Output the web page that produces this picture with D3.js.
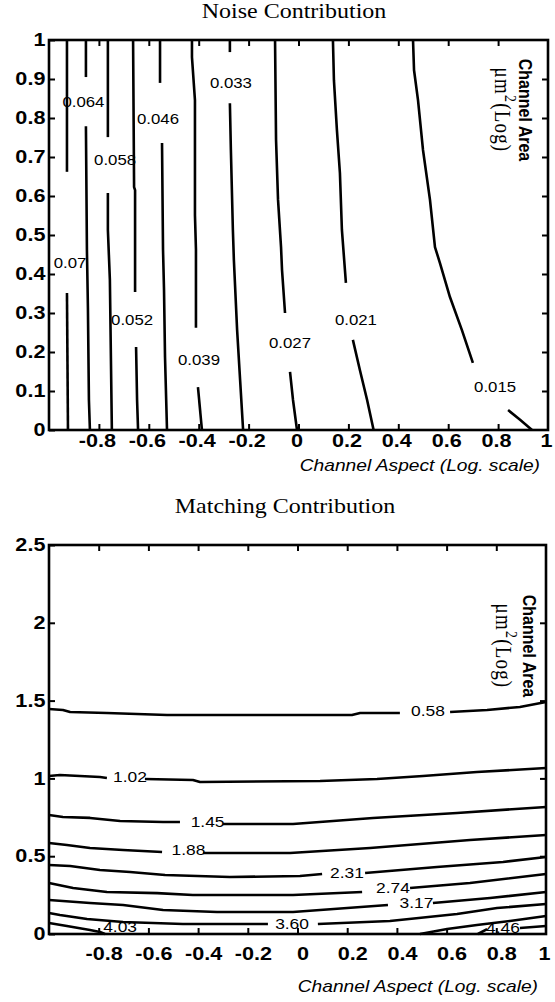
<!DOCTYPE html>
<html><head><meta charset="utf-8">
<script src="https://cdn.jsdelivr.net/npm/d3@7"></script>
<style>
body{margin:0;background:#fff;}
svg{display:block;}
</style></head><body>
<svg id="chart" width="555" height="1002"></svg>
<script>
// ---------- DATA ----------
const xTickValues = [-0.8,-0.6,-0.4,-0.2,0,0.2,0.4,0.6,0.8];
const xLabelValues = [-0.8,-0.6,-0.4,-0.2,0,0.2,0.4,0.6,0.8,1];
const xLabelText = ["-0.8","-0.6","-0.4","-0.2","0","0.2","0.4","0.6","0.8","1"];

const noiseYValues = [0,0.1,0.2,0.3,0.4,0.5,0.6,0.7,0.8,0.9,1];
const noiseYText = ["0","0.1","0.2","0.3","0.4","0.5","0.6","0.7","0.8","0.9","1"];
const matchYValues = [0,0.5,1,1.5,2,2.5];
const matchYText = ["0","0.5","1","1.5","2","2.5"];

const noiseLevels = ["0.07","0.064","0.058","0.052","0.046","0.039","0.033","0.027","0.021","0.015"];
const noiseSegments = [
 [[[-0.928,1],[-0.928,0.662]], [[-0.928,0.351],[-0.924,0]]],
 [[[-0.852,1],[-0.852,0.905]], [[-0.852,0.779],[-0.848,0.462],[-0.844,0.313],[-0.840,0.077],[-0.836,0]]],
 [[[-0.764,1],[-0.764,0.751]], [[-0.764,0.608],[-0.764,0.513],[-0.756,0.385],[-0.748,0]]],
 [[[-0.663,1],[-0.659,0.623],[-0.655,0.615],[-0.655,0.354]], [[-0.651,0.213],[-0.647,0.077],[-0.643,0]]],
 [[[-0.555,1],[-0.555,0.890]], [[-0.547,0.736],[-0.543,0.462],[-0.539,0.359],[-0.535,0.187],[-0.527,0]]],
 [[[-0.427,1],[-0.427,0.956],[-0.415,0.846],[-0.415,0.551],[-0.411,0.462],[-0.411,0.262]], [[-0.403,0.110],[-0.387,0]]],
 [[[-0.275,1],[-0.275,0.969]], [[-0.275,0.838],[-0.271,0.718],[-0.263,0.513],[-0.259,0.436],[-0.246,0.256],[-0.234,0.128],[-0.222,0]]],
 [[[-0.094,1],[-0.090,0.744],[-0.082,0.590],[-0.070,0.469],[-0.066,0.410],[-0.054,0.300]], [[-0.034,0.149],[-0.022,0.077],[-0.006,0]]],
 [[[0.138,1],[0.142,0.897],[0.154,0.769],[0.166,0.659],[0.174,0.513],[0.190,0.377]], [[0.218,0.231],[0.246,0.154],[0.275,0.077],[0.301,0]]],
 [[[0.459,1],[0.463,0.923],[0.479,0.846],[0.499,0.718],[0.527,0.590],[0.547,0.469],[0.567,0.428],[0.607,0.341],[0.655,0.256],[0.699,0.172]], [[0.840,0.051],[0.888,0.026],[0.936,0]]]
];
const noiseLabelPos = [[-0.916,0.428],[-0.862,0.841],[-0.735,0.692],[-0.667,0.282],[-0.563,0.797],[-0.399,0.179],[-0.271,0.890],[-0.034,0.223],[0.230,0.282],[0.788,0.110]];

const matchLevels = ["0.58","1.02","1.45","1.88","2.31","2.74","3.17","3.60","4.03","4.46"];
const matchSegments = [
 [[[-1,1.446],[-0.944,1.440],[-0.915,1.427],[-0.767,1.420],[-0.525,1.407],[0.219,1.407],[0.252,1.420],[0.412,1.420]], [[0.614,1.427],[0.763,1.440],[0.895,1.459],[1,1.491]]],
 [[[-1,1.015],[-0.956,1.022],[-0.795,1.009],[-0.767,1.003]], [[-0.614,0.996],[-0.421,0.990],[-0.392,0.977],[0.091,0.983],[0.320,0.996],[0.505,1.015],[0.722,1.041],[1,1.067]]],
 [[[-1,0.765],[-0.944,0.752],[-0.835,0.746],[-0.714,0.726],[-0.541,0.720],[-0.473,0.720]], [[-0.300,0.707],[-0.018,0.707],[0.304,0.746],[0.642,0.778],[1,0.816]]],
 [[[-1,0.585],[-0.928,0.572],[-0.835,0.553],[-0.702,0.540],[-0.545,0.527]], [[-0.380,0.521],[-0.030,0.521],[0.292,0.553],[0.694,0.604],[1,0.636]]],
 [[[-1,0.443],[-0.915,0.437],[-0.795,0.411],[-0.674,0.398],[-0.533,0.379],[-0.272,0.366],[0.010,0.373],[0.099,0.386]], [[0.272,0.392],[0.561,0.431],[0.827,0.463],[1,0.495]]],
 [[[-1,0.328],[-0.903,0.296],[-0.767,0.270],[-0.565,0.263],[-0.421,0.251],[-0.018,0.251],[0.260,0.270]], [[0.453,0.296],[0.694,0.328],[1,0.386]]],
 [[[-1,0.219],[-0.835,0.199],[-0.702,0.186],[-0.541,0.154],[-0.324,0.141],[-0.018,0.141],[0.364,0.186]], [[0.545,0.199],[0.775,0.231],[1,0.270]]],
 [[[-1,0.135],[-0.956,0.122],[-0.847,0.096],[-0.702,0.077],[-0.461,0.064],[-0.119,0.064]], [[0.082,0.064],[0.372,0.084],[0.642,0.129],[0.803,0.167],[1,0.193]]],
 [[[-1,0.071],[-0.928,0.051],[-0.835,0.026],[-0.795,0.013],[-0.775,0]], [[0.493,0],[0.602,0.032],[0.722,0.058],[0.855,0.084],[1,0.116]]],
 [[[0.726,0],[0.763,0.032]], [[0.895,0.039],[1,0.051]]]
];
const matchLabelPos = [[0.525,1.433],[-0.674,1.009],[-0.362,0.720],[-0.439,0.540],[0.199,0.392],[0.384,0.296],[0.479,0.199],[-0.022,0.064],[-0.714,0.045],[0.827,0.039]];

// ---------- DRAW ----------
const svg = d3.select("#chart");
svg.append("rect").attr("width",555).attr("height",1002).attr("fill","#fff");
const SANS = "'Liberation Sans', Arial, sans-serif";
const SERIF = "'Liberation Serif', 'Times New Roman', serif";
const SX = 1.2;

function panel(o) {
  const x = d3.scaleLinear().domain([-1,1]).range(o.xr);
  const y = d3.scaleLinear().domain(o.yd).range(o.yr);
  const g = svg.append("g");
  const line = d3.line().x(d=>x(d[0])).y(d=>y(d[1]));

  // contours
  o.segments.forEach(segs => segs.forEach(s => {
    g.append("path").attr("d", line(s)).attr("fill","none")
      .attr("stroke","#000").attr("stroke-width",2.6)
      .attr("stroke-linejoin","round").attr("stroke-linecap","butt");
  }));
  g.selectAll("text.clab").data(o.levels).enter().append("text")
    .attr("class","clab")
    .attr("transform",(d,i)=>`translate(${x(o.labelPos[i][0])},${y(o.labelPos[i][1])}) scale(${SX},1)`)
    .attr("text-anchor","middle").attr("dy","0.36em")
    .attr("font-family",SANS).attr("font-size",o.clabSize)
    .text(d=>d);

  // axes
  const y0 = o.yr[0], y1 = o.yr[1];
  const gb = g.append("g").attr("transform",`translate(0,${y0})`)
    .call(d3.axisBottom(x).tickValues(xLabelValues).tickSize(-6).tickPadding(o.xPad)
      .tickFormat((d,i)=>xLabelText[i]));
  gb.select(".domain").remove();
  gb.selectAll(".tick").filter(d=>d===1).select("line").remove();
  gb.selectAll(".tick line").attr("stroke-width",2);
  gb.selectAll("text").attr("transform",d=>`translate(${d===1 ? -2 : o.xLabDx},0) scale(${SX},1)`)
    .attr("font-family",SANS).attr("font-size",18).attr("font-weight","bold").attr("fill","#000");

  const gt = g.append("g").attr("transform",`translate(0,${y1})`)
    .call(d3.axisTop(x).tickValues(xTickValues).tickSize(-6).tickFormat(""));
  gt.select(".domain").remove();
  gt.selectAll(".tick line").attr("stroke-width",2);

  const gl = g.append("g").attr("transform",`translate(${o.xr[0]},0)`)
    .call(d3.axisLeft(y).tickValues(o.yVals).tickSize(-6).tickPadding(3)
      .tickFormat((d,i)=>o.yText[i]));
  gl.select(".domain").remove();
  gl.selectAll(".tick line").attr("stroke-width",2);
  gl.selectAll("text").attr("transform",`scale(${SX},1)`)
    .attr("font-family",SANS).attr("font-size",18).attr("font-weight","bold").attr("fill","#000");

  const gr = g.append("g").attr("transform",`translate(${o.xr[1]},0)`)
    .call(d3.axisRight(y).tickValues(o.yVals.slice(1,-1)).tickSize(-6).tickFormat(""));
  gr.select(".domain").remove();
  gr.selectAll(".tick line").attr("stroke-width",2);

  g.append("rect").attr("x",o.xr[0]).attr("y",y1)
    .attr("width",o.xr[1]-o.xr[0]).attr("height",y0-y1)
    .attr("fill","none").attr("stroke","#000").attr("stroke-width",2.6);

  // title
  g.append("text").attr("transform",`translate(${o.titleX},${o.titleY}) scale(${SX},1)`)
    .attr("text-anchor","middle").attr("font-family",SERIF).attr("font-size",20)
    .text(o.title);

  // x axis title
  g.append("text").attr("transform",`translate(${o.xTitleX},${o.xTitleY}) scale(${SX},1)`)
    .attr("text-anchor","end").attr("font-family",SANS).attr("font-size",16)
    .attr("font-style","italic").text("Channel Aspect (Log. scale)");

  // right y label (rotated)
  const rl = g.append("g").attr("transform",`translate(${o.rlX},${o.rlY}) rotate(90)`);
  rl.append("text").attr("transform",`scale(1,${SX})`).attr("text-anchor","middle")
    .attr("font-family",SANS).attr("font-size",16).attr("font-weight","bold")
    .text("Channel Area");
  const t2 = rl.append("text").attr("transform",`translate(0,${o.rlX - o.rl2X}) scale(1,${SX})`)
    .attr("text-anchor","middle").attr("font-family",SERIF).attr("font-size",19)
    .attr("letter-spacing","1.2");
  t2.append("tspan").text("\u03BCm");
  t2.append("tspan").attr("dy",-8).attr("font-size",14).text("2");
  t2.append("tspan").attr("dy",8).text("(Log)");
}

panel({
  xr:[49,548], yd:[0,1], yr:[430,40],
  segments:noiseSegments, levels:noiseLevels, labelPos:noiseLabelPos, clabSize:14,
  yVals:noiseYValues, yText:noiseYText, xPad:4, xLabDx:-2,
  title:"Noise Contribution", titleX:294, titleY:18,
  xTitleX:540, xTitleY:471,
  rlX:519, rl2X:495, rlY:110
});
panel({
  xr:[49,546], yd:[0,2.5], yr:[934,545],
  segments:matchSegments, levels:matchLevels, labelPos:matchLabelPos, clabSize:14.5,
  yVals:matchYValues, yText:matchYText, xPad:13, xLabDx:5,
  title:"Matching Contribution", titleX:285, titleY:513,
  xTitleX:538, xTitleY:992,
  rlX:523, rl2X:496, rlY:646
});
</script>
</body></html>
